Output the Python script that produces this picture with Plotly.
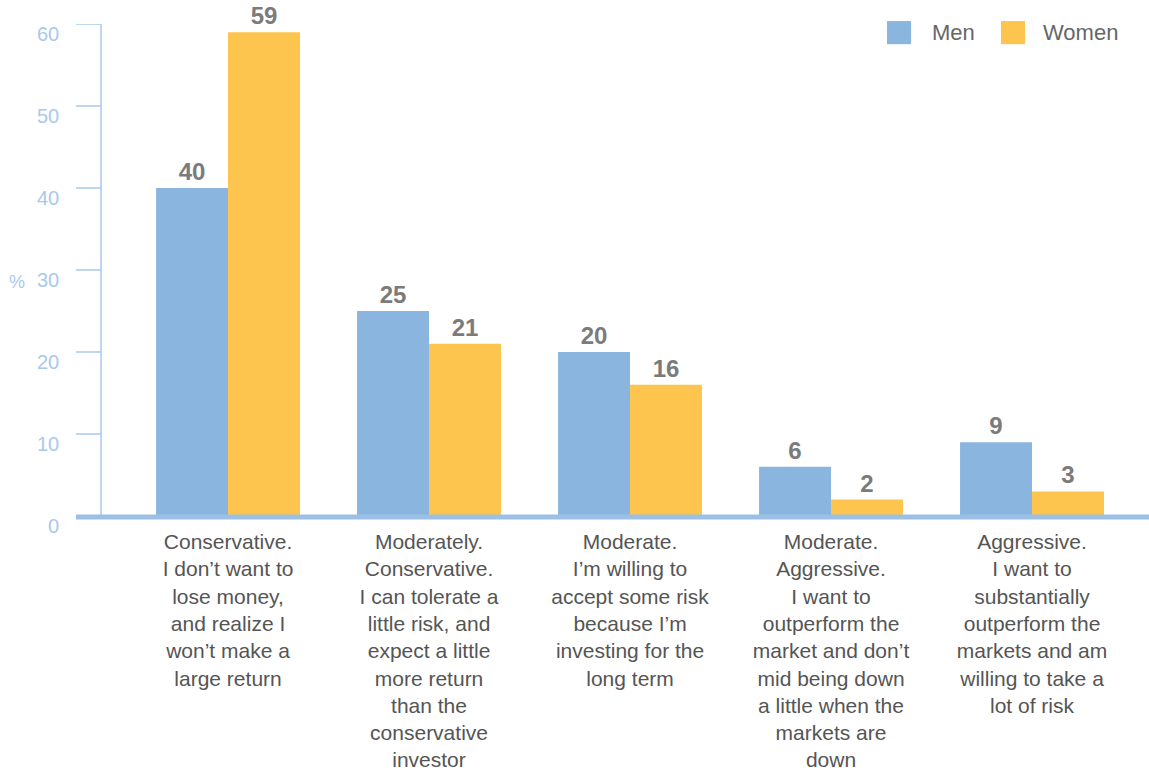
import plotly.graph_objects as go

categories = [
    "Conservative.<br>I don’t want to<br>lose money,<br>and realize I<br>won’t make a<br>large return",
    "Moderately.<br>Conservative.<br>I can tolerate a<br>little risk, and<br>expect a little<br>more return<br>than the<br>conservative<br>investor",
    "Moderate.<br>I’m willing to<br>accept some risk<br>because I’m<br>investing for the<br>long term",
    "Moderate.<br>Aggressive.<br>I want to<br>outperform the<br>market and don’t<br>mid being down<br>a little when the<br>markets are<br>down",
    "Aggressive.<br>I want to<br>substantially<br>outperform the<br>markets and am<br>willing to take a<br>lot of risk",
]
men = [40, 25, 20, 6, 9]
women = [59, 21, 16, 2, 3]
y_ticks = [0, 10, 20, 30, 40, 50, 60]

MEN_C = "#8ab5df"
WOMEN_C = "#fdc44e"
AXIS_C = "#a9c9eb"
LABEL_C = "#7b7b7b"
FONT = "Liberation Sans, Arial, sans-serif"

xs = list(range(len(categories)))

fig = go.Figure()
fig.add_trace(go.Bar(
    x=xs, y=men, name="Men", marker=dict(color=MEN_C, line=dict(width=0)),
    text=[str(v) for v in men], textposition="outside",
    textfont=dict(family=FONT, size=24, color=LABEL_C, weight="bold"),
    cliponaxis=False, showlegend=False, hoverinfo="skip",
))
fig.add_trace(go.Bar(
    x=xs, y=women, name="Women", marker=dict(color=WOMEN_C, line=dict(width=0)),
    text=[str(v) for v in women], textposition="outside",
    textfont=dict(family=FONT, size=24, color=LABEL_C, weight="bold"),
    cliponaxis=False, showlegend=False, hoverinfo="skip",
))

annotations = []
for t in y_ticks:
    annotations.append(dict(
        x=0, xref="paper", y=t, yref="y", text=str(t), showarrow=False,
        xanchor="right", yanchor="middle", xshift=-40, yshift=-10,
        font=dict(family=FONT, size=20, color=AXIS_C),
    ))
annotations.append(dict(
    x=0, xref="paper", y=28.5, yref="y", text="%", showarrow=False,
    xanchor="center", yanchor="middle", xshift=-84,
    font=dict(family=FONT, size=18, color=AXIS_C),
))
# legend
annotations.append(dict(x=0.791, xref="paper", y=0.983, yref="paper", text="Men",
                        showarrow=False, xanchor="left", yanchor="middle",
                        font=dict(family=FONT, size=22, color="#666666")))
annotations.append(dict(x=0.897, xref="paper", y=0.983, yref="paper", text="Women",
                        showarrow=False, xanchor="left", yanchor="middle",
                        font=dict(family=FONT, size=22, color="#666666")))

shapes = []
for t in y_ticks[1:]:
    shapes.append(dict(type="line", xref="paper", yref="y", x0=-0.0239, x1=0, y0=t, y1=t,
                       line=dict(color=AXIS_C, width=1.5)))
shapes.append(dict(type="line", xref="paper", yref="paper", x0=0, x1=0, y0=0, y1=1,
                   line=dict(color=AXIS_C, width=1.5)))
shapes.append(dict(type="line", xref="paper", yref="paper", x0=-0.0239, x1=1, y0=-0.002, y1=-0.002,
                   line=dict(color="#9cc0e5", width=5)))
shapes.append(dict(type="rect", xref="paper", yref="paper", x0=0.75, x1=0.773, y0=0.959, y1=1.006,
                   line=dict(width=0), fillcolor=MEN_C))
shapes.append(dict(type="rect", xref="paper", yref="paper", x0=0.8588, x1=0.8817, y0=0.959, y1=1.006,
                   line=dict(width=0), fillcolor=WOMEN_C))

fig.update_layout(
    width=1149, height=772, autosize=False,
    margin=dict(l=101, r=0, t=24, b=256, pad=0),
    paper_bgcolor="white", plot_bgcolor="white",
    barmode="group", bargap=0.284, bargroupgap=0,
    xaxis=dict(range=[-0.632, 4.582], tickvals=xs, ticktext=categories,
               showgrid=False, zeroline=False, showline=False, ticks="",
               ticklabelstandoff=11, automargin=False,
               tickfont=dict(family=FONT, size=21, color="#555555"), tickangle=0),
    yaxis=dict(range=[0, 60], showgrid=False, zeroline=False, showline=False,
               showticklabels=False, ticks="", automargin=False),
    annotations=annotations, shapes=shapes,
    font=dict(family=FONT),
    hovermode=False,
)
fig.write_html(
    "out.html",
    config={"displayModeBar": False},
    post_script="document.body.style.margin='0';document.body.style.overflow='hidden';",
)
